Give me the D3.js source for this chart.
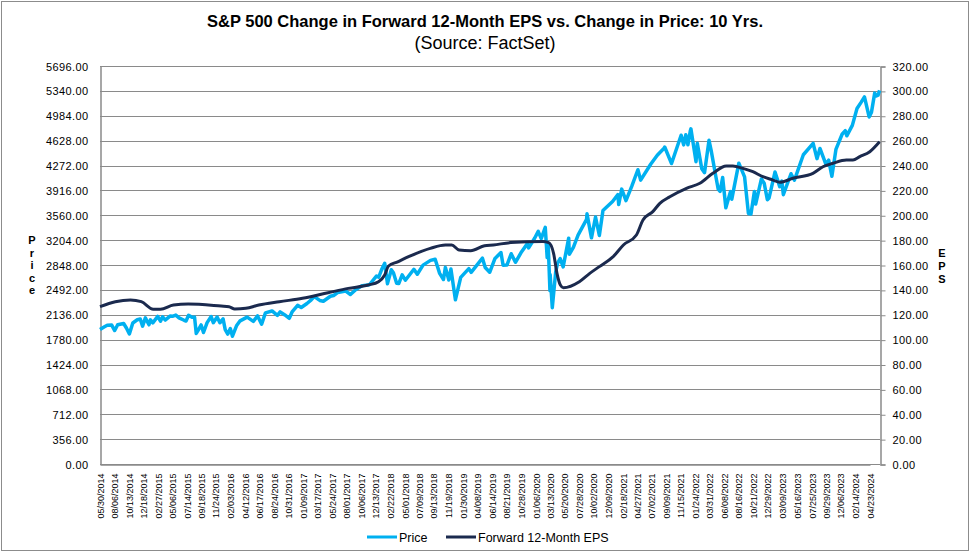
<!DOCTYPE html>
<html>
<head>
<meta charset="utf-8">
<script src="https://cdn.jsdelivr.net/npm/d3@7"></script>
<style>
  body { margin: 0; background: #ffffff; }
  text { font-family: "Liberation Sans", Arial, sans-serif; }
</style>
</head>
<body>
<script>
// ---- data ----
var xLabels = ["05/30/2014","08/06/2014","10/13/2014","12/18/2014","02/27/2015","05/06/2015","07/14/2015","09/18/2015","11/24/2015","02/03/2016","04/12/2016","06/17/2016","08/24/2016","10/31/2016","01/09/2017","03/17/2017","05/24/2017","08/01/2017","10/06/2017","12/13/2017","02/22/2018","05/01/2018","07/09/2018","09/13/2018","11/19/2018","01/30/2019","04/08/2019","06/14/2019","08/21/2019","10/28/2019","01/06/2020","03/13/2020","05/20/2020","07/28/2020","10/02/2020","12/09/2020","02/18/2021","04/27/2021","07/02/2021","09/09/2021","11/15/2021","01/24/2022","03/31/2022","06/08/2022","08/16/2022","10/21/2022","12/29/2022","03/09/2023","05/16/2023","07/25/2023","09/29/2023","12/06/2023","02/14/2024","04/23/2024"];

var priceTicks = [0,356,712,1068,1424,1780,2136,2492,2848,3204,3560,3916,4272,4628,4984,5340,5696];
var epsTicks = [0,20,40,60,80,100,120,140,160,180,200,220,240,260,280,300,320];

var priceDates = ["2014-05-30","2014-06-20","2014-07-03","2014-07-24","2014-08-07","2014-08-21","2014-09-18","2014-10-01","2014-10-15","2014-10-31","2014-11-21","2014-12-05","2014-12-16","2014-12-29",
  "2015-01-15","2015-01-22","2015-02-02","2015-02-25","2015-03-10","2015-03-20","2015-04-01","2015-04-24","2015-05-08","2015-05-21","2015-06-05","2015-06-29","2015-07-08","2015-07-20","2015-08-05","2015-08-17","2015-08-25","2015-09-04","2015-09-17","2015-09-28","2015-10-15","2015-11-03","2015-11-13","2015-12-01","2015-12-14","2015-12-29",
  "2016-01-08","2016-01-20","2016-02-01","2016-02-11","2016-03-01","2016-03-18","2016-04-20","2016-05-19","2016-06-08","2016-06-27","2016-07-15","2016-08-15","2016-09-09","2016-09-22","2016-10-14","2016-11-04","2016-11-18","2016-12-13","2016-12-30",
  "2017-01-26","2017-02-15","2017-03-01","2017-03-27","2017-04-13","2017-05-16","2017-05-31","2017-06-19","2017-07-27","2017-08-18","2017-09-13","2017-10-13","2017-11-15","2017-12-18","2017-12-29",
  "2018-01-12","2018-01-26","2018-02-08","2018-02-26","2018-03-08","2018-03-23","2018-04-02","2018-04-18","2018-05-03","2018-06-12","2018-06-28","2018-07-25","2018-08-29","2018-09-20","2018-10-11","2018-10-29","2018-11-07","2018-11-23","2018-12-03","2018-12-24",
  "2019-01-18","2019-02-25","2019-03-08","2019-04-30","2019-05-13","2019-06-03","2019-06-28","2019-07-26","2019-08-05","2019-08-23","2019-09-12","2019-10-02","2019-10-31","2019-11-27","2019-12-03","2019-12-31",
  "2020-01-17","2020-01-31","2020-02-19","2020-02-28","2020-03-04","2020-03-12","2020-03-13","2020-03-23","2020-04-08","2020-04-17","2020-04-29","2020-05-13","2020-06-08","2020-06-11","2020-06-30","2020-07-22","2020-08-31","2020-09-02","2020-09-23","2020-10-12","2020-10-30","2020-11-16","2020-12-31",
  "2021-01-25","2021-01-29","2021-02-12","2021-03-04","2021-03-31","2021-04-29","2021-05-12","2021-06-28","2021-07-29","2021-08-31","2021-09-02","2021-10-04","2021-11-18","2021-11-30","2021-12-10","2021-12-20","2021-12-31",
  "2022-01-03","2022-01-27","2022-02-02","2022-02-23","2022-03-08","2022-03-29","2022-04-08","2022-04-29","2022-05-11","2022-05-20","2022-06-01","2022-06-16","2022-07-08","2022-07-14","2022-08-16","2022-09-12","2022-09-30","2022-10-12","2022-10-28","2022-11-03","2022-11-30","2022-12-13","2022-12-28",
  "2023-01-05","2023-02-02","2023-02-24","2023-03-06","2023-03-13","2023-04-18","2023-05-04","2023-05-19","2023-06-15","2023-07-31","2023-08-18","2023-09-01","2023-09-29","2023-10-12","2023-10-27","2023-11-15","2023-12-14","2023-12-29",
  "2024-01-05","2024-01-31","2024-02-22","2024-03-12","2024-03-28","2024-04-19","2024-04-30","2024-05-15","2024-05-23","2024-05-31","2024-06-07"];

var priceValues = [1924,1963,1985,1988,1910,1993,2011,1946,1862,2018,2064,2075,1973,2091,
  1992,2063,2020,2113,2044,2108,2060,2117,2116,2131,2092,2057,2046,2129,2100,2102,1868,1921,1990,1882,2023,2110,2023,2103,2021,2078,
  1922,1859,1939,1829,1978,2049,2102,2041,2119,2001,2162,2190,2128,2177,2133,2085,2182,2271,2239,
  2297,2349,2396,2341,2329,2400,2412,2453,2475,2426,2498,2553,2565,2690,2674,
  2786,2873,2581,2780,2738,2588,2582,2708,2630,2787,2716,2846,2914,2931,2728,2641,2814,2633,2790,2351,
  2671,2796,2743,2946,2812,2744,2942,3026,2845,2847,3009,2887,3038,3154,3093,3231,
  3330,3226,3386,2954,3130,2481,2711,2237,2750,2875,2940,2820,3232,3002,3100,3276,3500,3580,3237,3535,3270,3627,3756,
  3855,3714,3934,3768,3973,4211,4063,4290,4419,4523,4537,4300,4705,4567,4712,4568,4766,
  4797,4327,4589,4225,4170,4632,4488,4132,3935,3901,4101,3667,3899,3790,4305,4110,3586,3577,3901,3720,4080,4019,3783,
  3808,4180,3970,4048,3855,4154,4061,4192,4426,4589,4370,4516,4288,4349,4117,4502,4719,4770,
  4697,4846,5087,5175,5254,4967,5036,5308,5267,5278,5347];

var epsDates = ["2014-05-30","2014-08-10","2014-10-20","2014-12-10","2015-02-04","2015-03-10","2015-05-10","2015-07-18","2015-12-20","2016-01-26","2016-02-22","2016-04-14","2016-06-14","2016-09-18","2017-01-05","2017-05-05","2017-08-08","2017-11-10","2017-12-28","2018-01-26","2018-02-13","2018-03-28","2018-05-18","2018-08-28","2018-11-07","2018-12-07","2019-01-10","2019-03-06","2019-05-10","2019-06-20","2019-09-10","2020-02-08","2020-03-06","2020-03-29","2020-04-14","2020-04-30","2020-05-14","2020-07-28","2020-09-15","2020-10-30","2021-01-03","2021-02-20","2021-04-22","2021-05-23","2021-07-08","2021-08-10","2021-09-26","2021-12-13","2022-02-14","2022-04-16","2022-06-18","2022-07-19","2022-09-04","2022-10-21","2022-12-07","2023-01-23","2023-02-24","2023-04-27","2023-07-30","2023-09-15","2023-11-01","2024-01-03","2024-02-03","2024-03-06","2024-04-22","2024-06-07"];

var epsValues = [126.5,130.5,131.9,130.5,124.4,124.4,127.8,128.6,127,126.5,124.6,125.2,127.8,130.5,133.2,137.7,141.2,143.9,146.6,152,159.2,162.6,166.7,173.4,176.1,176.1,172.1,171.5,175.5,176.1,178,178.8,178,169.4,153.3,143.9,141.8,146.6,153.3,158.7,166.7,176.1,184.1,196.2,202.9,209.6,214.9,221.7,225.7,233.7,239.6,239.6,237.7,235,231,228.3,226.5,229.7,233.7,239,241.8,244.4,244.4,247.1,251.1,259.1];

// ---- layout ----
var w = 970;
var h = 554;
var plotLeft = 100, plotRight = 880, plotTop = 66, plotBottom = 464;

var parseDate = d3.timeParse("%Y-%m-%d");
var parseLabel = d3.timeParse("%m/%d/%Y");

var svg = d3.select("body").append("svg")
    .attr("width", w)
    .attr("height", h);

// outer frame
svg.append("rect")
   .attr("x", 1.5).attr("y", 1.5)
   .attr("width", w - 3).attr("height", h - 5)
   .attr("fill", "#ffffff")
   .attr("stroke", "#8c8c8c");

var x = d3.scaleTime()
    .domain([parseLabel(xLabels[0]), parseLabel(xLabels[xLabels.length - 1])])
    .range([plotLeft, 870]);

var yPrice = d3.scaleLinear().domain([0, 5696]).range([plotBottom, plotTop]);
var yEps = d3.scaleLinear().domain([0, 320]).range([plotBottom, plotTop]);

// gridlines
svg.append("g")
   .selectAll("line")
   .data(priceTicks)
   .enter()
   .append("line")
   .attr("x1", plotLeft).attr("x2", plotRight)
   .attr("y1", function(d) { return Math.round(yPrice(d)) + 0.5; })
   .attr("y2", function(d) { return Math.round(yPrice(d)) + 0.5; })
   .attr("stroke", "#8a8a8a")
   .attr("stroke-width", 1);

// left axis
var leftAxis = svg.append("g")
   .attr("transform", "translate(" + (plotLeft + 0.5) + ",0.5)")
   .call(d3.axisLeft(yPrice).tickValues(priceTicks).tickFormat(d3.format(".2f")).tickSize(0).tickPadding(12));
leftAxis.select(".domain").attr("stroke", "#8a8a8a").attr("stroke-width", 1.5);
leftAxis.selectAll("text").attr("font-size", "11px").attr("fill", "#000").attr("letter-spacing", "0.4px");

// right axis
var rightAxis = svg.append("g")
   .attr("transform", "translate(" + (plotRight + 0.5) + ",0.5)")
   .call(d3.axisRight(yEps).tickValues(epsTicks).tickFormat(d3.format(".2f")).tickSize(5).tickPadding(7));
rightAxis.select(".domain").attr("stroke", "#8a8a8a").attr("stroke-width", 1.5);
rightAxis.selectAll(".tick line").attr("stroke", "#8a8a8a");
rightAxis.selectAll("text").attr("font-size", "11px").attr("fill", "#000").attr("letter-spacing", "0.4px");

// bottom axis (date labels)
var bottomAxis = svg.append("g")
   .attr("transform", "translate(0," + (plotBottom + 0.5) + ")")
   .call(d3.axisBottom(x).tickValues(xLabels.map(parseLabel)).tickFormat(d3.timeFormat("%m/%d/%Y")).tickSize(0).tickPadding(0));
bottomAxis.select(".domain").attr("stroke", "#8a8a8a").attr("stroke-width", 1.5);
bottomAxis.selectAll("text")
   .attr("font-size", "9px")
   .attr("fill", "#000")
   .attr("text-anchor", "end")
   .attr("dy", "0.35em")
   .attr("transform", "translate(0,9) rotate(-90)")
   .attr("y", 0)
   .attr("x", 0);

// lines
var priceData = priceDates.map(function(d, i) { return {date: parseDate(d), value: priceValues[i]}; });
var epsData = epsDates.map(function(d, i) { return {date: parseDate(d), value: epsValues[i]}; });

var priceLine = d3.line()
    .x(function(d) { return x(d.date); })
    .y(function(d) { return yPrice(d.value); });

var epsLine = d3.line()
    .curve(d3.curveMonotoneX)
    .x(function(d) { return x(d.date); })
    .y(function(d) { return yEps(d.value); });

svg.append("path")
   .datum(priceData)
   .attr("d", priceLine)
   .attr("fill", "none")
   .attr("stroke", "#00b0f0")
   .attr("stroke-width", 3.5)
   .attr("stroke-linejoin", "round");

svg.append("path")
   .datum(epsData)
   .attr("d", epsLine)
   .attr("fill", "none")
   .attr("stroke", "#1b2a4e")
   .attr("stroke-width", 3)
   .attr("stroke-linejoin", "round");

// titles
svg.append("text")
   .attr("x", 485).attr("y", 27)
   .attr("text-anchor", "middle")
   .attr("font-size", "16.5px")
   .attr("font-weight", "bold")
   .text("S&P 500 Change in Forward 12-Month EPS vs. Change in Price: 10 Yrs.");

svg.append("text")
   .attr("x", 485).attr("y", 49)
   .attr("text-anchor", "middle")
   .attr("font-size", "18px")
   .text("(Source: FactSet)");

// stacked axis titles
svg.append("g").selectAll("text")
   .data("Price".split(""))
   .enter()
   .append("text")
   .attr("x", 32)
   .attr("y", function(d, i) { return 244 + i * 12.5; })
   .attr("text-anchor", "middle")
   .attr("font-size", "11px")
   .attr("font-weight", "bold")
   .text(function(d) { return d; });

svg.append("g").selectAll("text")
   .data("EPS".split(""))
   .enter()
   .append("text")
   .attr("x", 942)
   .attr("y", function(d, i) { return 257 + i * 13; })
   .attr("text-anchor", "middle")
   .attr("font-size", "11px")
   .attr("font-weight", "bold")
   .text(function(d) { return d; });

// legend
var legendItems = [{name: "Price", color: "#00b0f0", x: 367}, {name: "Forward 12-Month EPS", color: "#1b2a4e", x: 446}];
var legend = svg.append("g").selectAll("g")
   .data(legendItems)
   .enter()
   .append("g")
   .attr("transform", function(d) { return "translate(" + d.x + ",537)"; });
legend.append("line")
   .attr("x1", 0).attr("x2", 30)
   .attr("stroke", function(d) { return d.color; })
   .attr("stroke-width", 3);
legend.append("text")
   .attr("x", 32).attr("y", 4.5)
   .attr("font-size", "12.5px")
   .text(function(d) { return d.name; });
</script>
</body>
</html>
